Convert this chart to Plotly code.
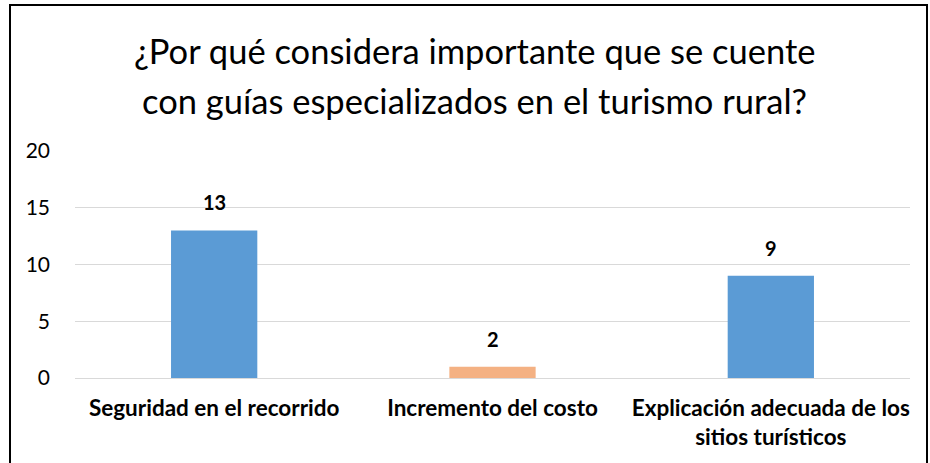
import plotly.graph_objects as go

title_lines = ["¿Por qué considera importante que se cuente",
               "con guías especializados en el turismo rural?"]
categories = ["Seguridad en el recorrido", "Incremento del costo",
              "Explicación adecuada de los<br>sitios turísticos"]
values = [13, 1, 9]
labels = ["13", "2", "9"]
colors = ["#5B9BD5", "#F4B183", "#5B9BD5"]
yticks = [0, 5, 10, 15, 20]

FONT = "Lato, Carlito, sans-serif"

# plot area geometry (pixels)
L, R, T, B = 75, 20, 151, 85
H = 463 - T - B
W = 930 - L - R

def py(px):
    return (463 - B - px) / H

def pxx(px):
    return (px - L) / W

fig = go.Figure()
fig.add_trace(go.Bar(x=categories, y=values, marker=dict(color=colors, line=dict(width=0)),
                     width=0.31, hoverinfo="skip"))

for c, v, t in zip(categories, values, labels):
    fig.add_annotation(x=c, y=v, text=f"<b>{t}</b>", showarrow=False, yshift=28,
                       font=dict(family=FONT, size=20, color="#000000"))

for line, ypx in zip(title_lines, [50, 100]):
    fig.add_annotation(xref="paper", yref="paper", x=pxx(474), y=py(ypx), text=line,
                       showarrow=False, xanchor="center", yanchor="middle",
                       font=dict(family=FONT, size=34.5, color="#000000"))

fig.update_layout(
    width=930, height=463,
    margin=dict(l=L, r=R, t=T, b=B),
    paper_bgcolor="white", plot_bgcolor="white",
    showlegend=False,
    font=dict(family=FONT, color="#000000"),
)
fig.update_xaxes(showgrid=False, showline=False, ticks="", tickfont=dict(size=22.5, family=FONT, color="#000000"),
                 tickprefix="<b>", ticksuffix="</b>", ticklabelstandoff=14)
fig.update_yaxes(range=[0, 20], tickvals=yticks, showgrid=True, gridcolor="#D9D9D9", gridwidth=1.3,
                 zeroline=True, zerolinecolor="#D9D9D9", zerolinewidth=1.3, showline=False,
                 tickfont=dict(size=21, family=FONT, color="#000000"), ticklabelstandoff=24)

# chart border
fig.add_shape(type="rect", xref="paper", yref="paper",
              x0=pxx(10), x1=pxx(927), y0=-0.6, y1=py(5),
              line=dict(color="#000000", width=2), fillcolor="rgba(0,0,0,0)", layer="below")

fig.write_html("out.html", config={"displayModeBar": False},
               post_script="document.body.style.margin='0';")
